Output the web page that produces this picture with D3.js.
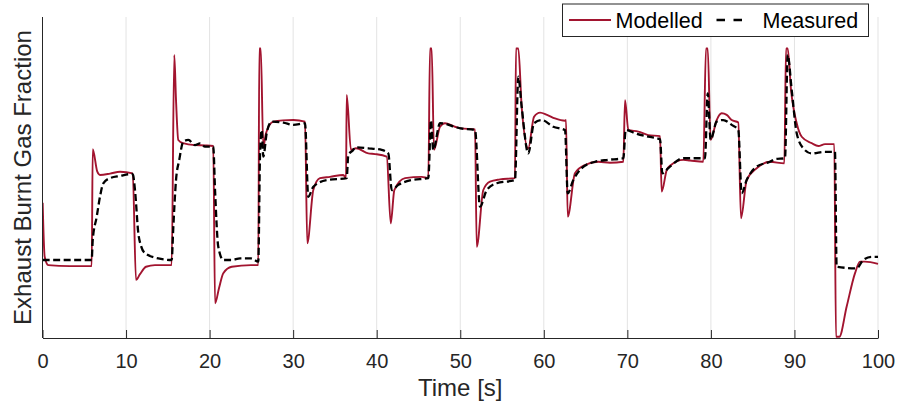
<!DOCTYPE html>
<html>
<head>
<meta charset="utf-8">
<script src="https://cdn.jsdelivr.net/npm/d3@7/dist/d3.min.js"></script>
<style>
  html, body { margin: 0; padding: 0; background: #fff; }
  svg { display: block; font-family: "Liberation Sans", Arial, Helvetica, sans-serif; }
</style>
</head>
<body>
<svg id="chart" width="898" height="406"></svg>
<script>
// Time axis ticks [s]
const xTicks = [0, 10, 20, 30, 40, 50, 60, 70, 80, 90, 100];

// Series labels
const seriesNames = ["Modelled", "Measured"];

// Modelled exhaust burnt gas fraction: [time s, fraction]
const modelled = [
  [0.02,0.421],[0.26,0.253],[0.69,0.227],[3.29,0.224],[5.89,0.224],
  [6.01,0.588],[6.56,0.518],[6.88,0.508],[8.08,0.512],[9.28,0.518],[10.80,0.513],
  [11.19,0.181],[11.67,0.199],[12.39,0.222],[13.46,0.227],[15.46,0.227],
  [15.77,0.882],[15.98,0.741],[16.25,0.617],[16.82,0.607],[18.25,0.601],[19.45,0.600],[20.44,0.598],
  [20.65,0.108],[21.13,0.156],[21.64,0.202],[22.65,0.222],[24.95,0.227],[25.83,0.227],
  [25.95,0.902],[26.12,0.902],[26.43,0.596],[26.75,0.638],[27.62,0.674],[28.78,0.678],[30.02,0.679],[31.42,0.674],
  [31.69,0.295],[32.41,0.461],[33.21,0.498],[34.41,0.502],[36.00,0.508],[36.33,0.498],
  [36.41,0.757],[36.92,0.586],[37.52,0.591],[38.99,0.575],[39.80,0.573],[41.20,0.565],
  [41.68,0.357],[42.11,0.461],[43.39,0.498],[45.39,0.502],[46.18,0.498],
  [46.38,0.902],[46.58,0.902],[46.86,0.586],[47.58,0.658],[48.17,0.669],[49.37,0.658],[50.09,0.653],[51.77,0.650],
  [51.97,0.284],[52.76,0.461],[53.56,0.487],[54.76,0.494],[56.55,0.498],
  [56.67,0.902],[56.95,0.902],[57.35,0.721],[58.14,0.591],[58.83,0.689],[59.55,0.702],[60.39,0.695],[61.34,0.684],[62.54,0.677],[62.66,0.679],
  [62.86,0.378],[63.73,0.513],[64.93,0.539],[66.52,0.549],[67.92,0.546],[69.52,0.549],
  [69.72,0.741],[70.12,0.648],[71.31,0.643],[72.51,0.632],[73.91,0.629],
  [74.11,0.456],[74.71,0.523],[75.22,0.539],[76.70,0.555],[77.50,0.553],[79.09,0.549],
  [79.41,0.902],[79.62,0.902],[79.97,0.617],[80.69,0.679],[81.29,0.700],[81.89,0.695],[82.49,0.679],[83.28,0.671],
  [83.60,0.373],[84.28,0.492],[85.48,0.529],[87.07,0.549],[88.79,0.544],
  [88.99,0.902],[89.19,0.902],[89.59,0.773],[90.27,0.669],[90.87,0.627],[92.06,0.607],[92.86,0.598],[93.66,0.604],[94.77,0.604],
  [94.97,0.004],[95.37,0.004],[96.25,0.098],[97.25,0.202],[97.85,0.238],[98.44,0.238],[100.0,0.231]
];

// Measured exhaust burnt gas fraction: [time s, fraction]
const measured = [
  [0.02,0.243],[5.89,0.243],[6.01,0.305],[6.49,0.378],[6.88,0.440],[7.28,0.482],[8.08,0.498],[9.28,0.505],[10.68,0.511],[10.83,0.508],
  [11.07,0.461],[11.47,0.326],[11.79,0.287],[12.27,0.264],[13.86,0.248],[15.46,0.243],
  [15.66,0.347],[15.98,0.492],[16.37,0.555],[16.85,0.612],[17.45,0.617],[18.25,0.601],[18.85,0.606],[19.45,0.596],[20.44,0.596],
  [20.65,0.461],[21.04,0.284],[21.64,0.243],[22.65,0.243],[23.64,0.248],[24.95,0.248],[25.83,0.238],
  [26.03,0.565],[26.24,0.648],[26.43,0.565],[26.83,0.638],[27.43,0.674],[28.82,0.671],[30.02,0.664],[31.42,0.669],
  [31.81,0.440],[32.41,0.471],[34.02,0.492],[36.41,0.498],
  [36.60,0.570],[37.20,0.586],[37.40,0.594],[38.99,0.591],[40.60,0.586],[41.39,0.575],
  [41.80,0.461],[42.59,0.477],[44.19,0.492],[46.18,0.498],
  [46.50,0.679],[46.77,0.586],[47.58,0.669],[48.54,0.665],[49.37,0.657],[50.09,0.653],[51.77,0.648],
  [52.36,0.409],[53.17,0.461],[54.36,0.482],[56.55,0.492],
  [56.95,0.814],[57.35,0.721],[58.14,0.575],[58.83,0.669],[59.75,0.679],[61.14,0.658],[62.54,0.648],
  [62.86,0.451],[63.53,0.492],[64.54,0.529],[66.13,0.549],[67.68,0.555],[69.52,0.560],
  [69.80,0.648],[70.91,0.638],[72.51,0.627],[73.91,0.619],
  [74.19,0.513],[74.90,0.529],[76.70,0.560],[79.29,0.560],
  [79.62,0.762],[79.97,0.617],[80.69,0.674],[81.48,0.679],[82.49,0.664],[83.28,0.648],
  [83.68,0.451],[84.28,0.492],[85.48,0.534],[87.07,0.549],[87.67,0.557],[88.87,0.560],
  [89.19,0.882],[89.67,0.773],[90.27,0.638],[91.06,0.591],[92.06,0.575],[93.66,0.580],[94.85,0.580],
  [95.05,0.222],[97.44,0.217],[98.23,0.243],[99.25,0.253],[100.0,0.253]
];

const svg = d3.select("#chart");
const margin = { left: 42.5, right: 20, top: 17, bottom: 68 };
const W = 898, H = 406;
const x0 = margin.left, x1 = W - margin.right;   // 42.5 .. 878
const y0 = H - margin.bottom, y1 = margin.top;   // 338 .. 17

const x = d3.scaleLinear().domain([0, 100]).range([x0, x1]);
const y = d3.scaleLinear().domain([0, 1]).range([y0, y1]);

const axisColor = "#262626";
const red = "#A2142F";

// vertical grid lines
svg.append("g")
  .selectAll("line")
  .data(xTicks.filter(t => t > 0))
  .join("line")
  .attr("x1", d => x(d)).attr("x2", d => x(d))
  .attr("y1", y1).attr("y2", y0)
  .attr("stroke", "#e3e3e3")
  .attr("stroke-width", 1);

// clip to plotting area
svg.append("defs").append("clipPath").attr("id", "plotClip")
  .append("rect").attr("x", x0).attr("y", y1 - 2).attr("width", x1 - x0 + 2).attr("height", y0 - y1 + 3);

const line = d3.line()
  .x(d => x(d[0]))
  .y(d => y(d[1]))
  .curve(d3.curveMonotoneX);

const plot = svg.append("g").attr("clip-path", "url(#plotClip)");

plot.append("path")
  .datum(modelled)
  .attr("fill", "none")
  .attr("stroke", red)
  .attr("stroke-width", 1.9)
  .attr("stroke-linejoin", "round")
  .attr("d", line);

plot.append("path")
  .datum(measured)
  .attr("fill", "none")
  .attr("stroke", "#000")
  .attr("stroke-width", 2.3)
  .attr("stroke-dasharray", "7,3.5")
  .attr("d", line);

// bottom axis with inward ticks
const xAxis = d3.axisBottom(x)
  .tickValues(xTicks)
  .tickFormat(d3.format("d"))
  .tickSizeInner(-8)
  .tickSizeOuter(0)
  .tickPadding(16);

const gx = svg.append("g")
  .attr("transform", `translate(0,${y0})`)
  .call(xAxis);
gx.select(".domain").attr("stroke", axisColor).attr("stroke-width", 1);
gx.selectAll(".tick line").attr("stroke", axisColor).attr("stroke-width", 1);
gx.selectAll(".tick text")
  .attr("fill", axisColor)
  .attr("font-size", 20)
  .attr("font-family", "Liberation Sans, Arial, Helvetica, sans-serif");

// left axis line (no ticks)
svg.append("line")
  .attr("x1", x0).attr("x2", x0)
  .attr("y1", y1).attr("y2", y0)
  .attr("stroke", axisColor).attr("stroke-width", 1);

// axis titles
svg.append("text")
  .attr("x", (x0 + x1) / 2).attr("y", 396)
  .attr("text-anchor", "middle")
  .attr("font-size", 24)
  .attr("fill", axisColor)
  .text("Time [s]");

svg.append("text")
  .attr("transform", `translate(30.5,${(y0 + y1) / 2}) rotate(-90)`)
  .attr("text-anchor", "middle")
  .attr("font-size", 24)
  .attr("fill", axisColor)
  .text("Exhaust Burnt Gas Fraction");

// legend
const lg = svg.append("g");
lg.append("rect")
  .attr("x", 562.5).attr("y", 4)
  .attr("width", 306).attr("height", 32.5)
  .attr("fill", "#fff")
  .attr("stroke", axisColor).attr("stroke-width", 1);

lg.append("line")
  .attr("x1", 569).attr("x2", 611)
  .attr("y1", 20).attr("y2", 20)
  .attr("stroke", red).attr("stroke-width", 1.9);
lg.append("text")
  .attr("x", 615.5).attr("y", 28)
  .attr("font-size", 21.5)
  .attr("fill", "#000")
  .text(seriesNames[0]);

lg.append("line")
  .attr("x1", 716.5).attr("x2", 742)
  .attr("y1", 20).attr("y2", 20)
  .attr("stroke", "#000").attr("stroke-width", 2.3)
  .attr("stroke-dasharray", "8.5,8.5");
lg.append("text")
  .attr("x", 762.5).attr("y", 28)
  .attr("font-size", 21.5)
  .attr("fill", "#000")
  .text(seriesNames[1]);
</script>
</body>
</html>
